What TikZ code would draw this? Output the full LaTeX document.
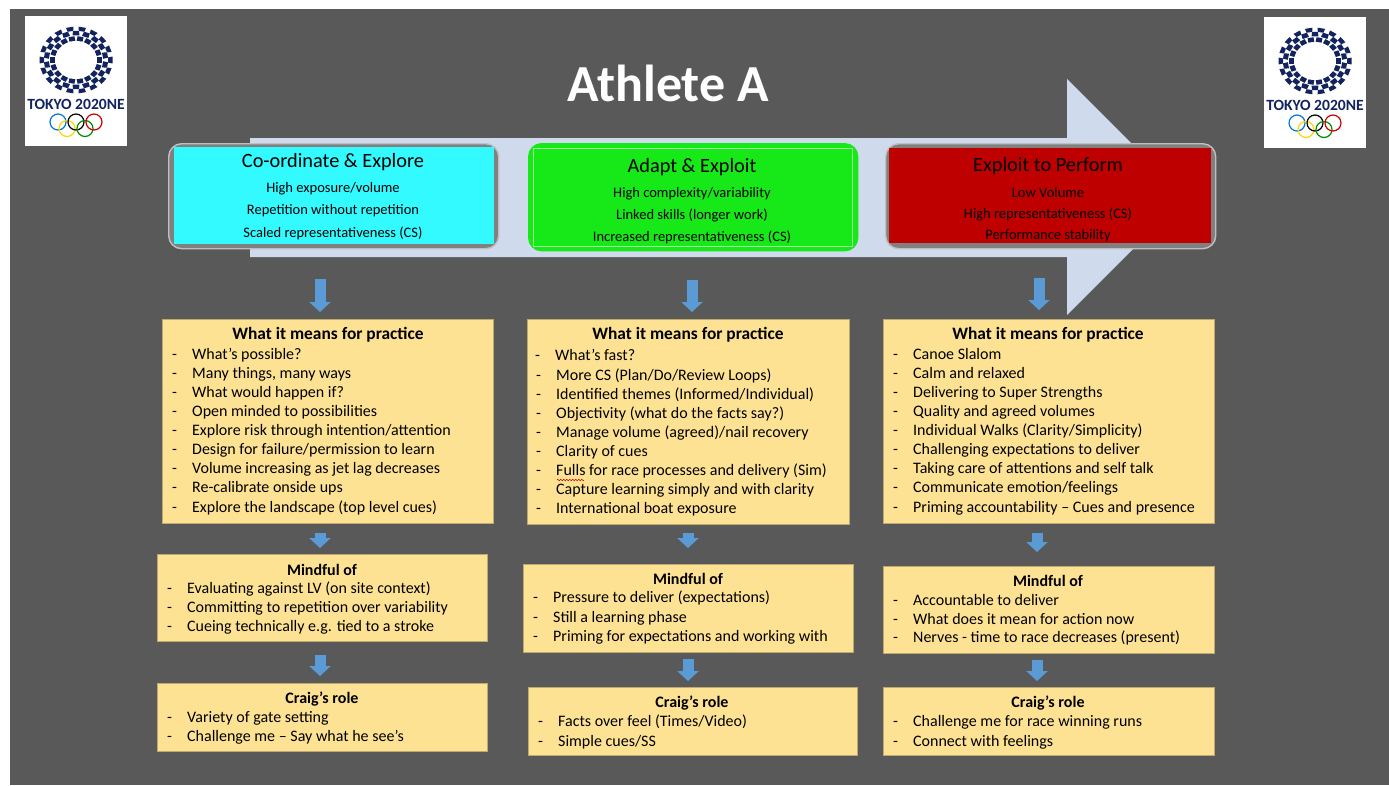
\documentclass[tikz,border=0pt]{standalone}
\usepackage{fontspec}
\setmainfont{Carlito}
\usetikzlibrary{arrows.meta,decorations.pathmorphing}

\definecolor{slidegray}{HTML}{595959}
\definecolor{bigarrow}{HTML}{CFDAED}
\definecolor{notefill}{HTML}{FEE294}
\definecolor{flowblue}{HTML}{5B9BD5}
\definecolor{logonavy}{HTML}{12235F}
\definecolor{stagecyan}{HTML}{33FAFF}
\definecolor{stagegreen}{HTML}{17E817}
\definecolor{stagered}{HTML}{BF0000}

\tikzset{
    notebox/.style={draw=black!25!notefill, fill=notefill, line width=0.6pt, anchor=north west, inner sep=0pt},
    stageouter/.style={draw=black!25, fill=black!50, line width=1.4pt, rounded corners=13pt, anchor=north west, inner sep=0pt},
    stageinner/.style={anchor=north west, inner sep=0pt},
    stagetitle/.style={font=\fontsize{20.3}{23}\selectfont, text=black, yshift=-1pt},
    stageline/.style={font=\fontsize{14.5}{17}\selectfont, text=black, yshift=-1pt},
    notehead/.style={font=\fontsize{17.4}{19}\selectfont\bfseries, text=black},
    smallhead/.style={font=\fontsize{16}{18}\selectfont\bfseries, text=black},
    noteline/.style={font=\fontsize{16}{18}\selectfont, text=black, anchor=west, inner sep=0pt},
    flowarrow/.style={draw=flowblue, line width=11pt, -{Triangle[width=21pt,length=10pt]}},
}

\newcommand{\dashitem}{\makebox[20pt][l]{-}}

% logo, #1 is a name and #2 the white card height
\newcommand{\gameslogo}[2]{%
    \node[fill=white, anchor=north west, inner sep=0pt, minimum width=102pt, minimum height=#2pt] (card#1) at (0,0) {};
    \foreach \a in {0,20,...,340} {
        \fill[logonavy, shift={(51,44)}, yscale=0.91, rotate=\a] (32,-2.8) -- (36.5,-3.8) -- (36.5,3.8) -- (32,2.8) -- cycle;
        \fill[logonavy, shift={(51,44)}, yscale=0.91, rotate=\a+10] (27,-3.4) -- (32,-3) -- (32,3) -- (27,3.4) -- cycle;
        \fill[logonavy, shift={(51,44)}, yscale=0.91, rotate=\a] (21,-3) -- (26,-3) -- (26,3) -- (21,3) -- cycle;
    }
    \node[font=\fontsize{15.6}{17}\selectfont\bfseries, text=logonavy, inner sep=0pt] (word#1) at (51,88.5) {TOKYO 2020NE};
    \draw[color=blue!45!cyan!85!black, line width=1.2pt] (33,106) circle (8);
    \draw[color=yellow!75!orange, line width=1.2pt] (42,112.5) circle (8);
    \draw[color=black, line width=1.2pt] (51,106) circle (8);
    \draw[color=green!55!black, line width=1.2pt] (60,112.5) circle (8);
    \draw[color=red!80!black, line width=1.2pt] (69,106) circle (8);
}

\begin{document}
\begin{tikzpicture}[x=1pt, y=-1pt]
    \useasboundingbox (0,0) rectangle (1389,785);
    \fill[white] (0,0) rectangle (1389,785);
    \fill[slidegray] (10,9) rectangle (1389,785);

    % logos
    \begin{scope}[shift={(25,16)}]
        \gameslogo{left}{130}
    \end{scope}
    \begin{scope}[shift={(1264,17)}]
        \gameslogo{right}{131}
    \end{scope}

    % title
    \node[font=\fontsize{52}{58}\selectfont\bfseries, text=white] (title) at (668,83) {Athlete A};

    % big arrow behind the stages
    \fill[bigarrow] (250,138) -- (1067,138) -- (1067,79) -- (1185,197) -- (1067,315) -- (1067,257) -- (250,257) -- cycle;

    % stages
    \node[stageouter, minimum width=330pt, minimum height=105pt] (outerA) at (168,143) {};
    \node[stageinner, fill=stagecyan, minimum width=320pt, minimum height=97pt] (stageA) at (174,147) {};
    \node[stageouter, draw=stagegreen, fill=stagegreen, minimum width=329pt, minimum height=107pt] (outerB) at (528,143) {};
    \node[stageinner, draw=white!60!stagegreen, line width=0.5pt, fill=stagegreen, minimum width=319pt, minimum height=98pt] (stageB) at (533,148) {};
    \node[stageouter, minimum width=330pt, minimum height=105pt] (outerC) at (885,143) {};
    \node[stageinner, fill=stagered, minimum width=322pt, minimum height=95pt] (stageC) at (889,148) {};

    % stage texts
    \node[stagetitle] (stageAt) at (333,161) {Co-ordinate \& Explore};
    \node[stageline] (stageA1) at (333,188) {High exposure/volume};
    \node[stageline] (stageA2) at (333,210) {Repetition without repetition};
    \node[stageline] (stageA3) at (333,232) {Scaled representativeness (CS)};
    \node[stagetitle] (stageBt) at (692,166) {Adapt \& Exploit};
    \node[stageline] (stageB1) at (692,193) {High complexity/variability};
    \node[stageline] (stageB2) at (692,214) {Linked skills (longer work)};
    \node[stageline] (stageB3) at (692,236) {Increased representativeness (CS)};
    \node[stagetitle] (stageCt) at (1048,165) {Exploit to Perform};
    \node[stageline] (stageC1) at (1048,192) {Low Volume};
    \node[stageline] (stageC2) at (1048,213) {High representativeness (CS)};
    \node[stageline] (stageC3) at (1048,235) {Performance stability};

    % yellow boxes
    \node[notebox, minimum width=331pt, minimum height=204pt] (pracA) at (162,319) {};
    \node[notebox, minimum width=322pt, minimum height=205pt] (pracB) at (527,319) {};
    \node[notebox, minimum width=331pt, minimum height=204pt] (pracC) at (883,319) {};
    \node[notebox, minimum width=330pt, minimum height=87pt] (mindA) at (157,554) {};
    \node[notebox, minimum width=330pt, minimum height=88pt] (mindB) at (523,564) {};
    \node[notebox, minimum width=331pt, minimum height=87pt] (mindC) at (883,566) {};
    \node[notebox, minimum width=330pt, minimum height=68pt] (roleA) at (157,683) {};
    \node[notebox, minimum width=329pt, minimum height=68pt] (roleB) at (528,687) {};
    \node[notebox, minimum width=331pt, minimum height=68pt] (roleC) at (883,687) {};

    % blue arrows
    \draw[flowarrow, shorten <=35pt, shorten >=7pt] (stageA.south -| 320,0) -- (pracA.north -| 320,0);
    \draw[flowarrow, shorten <=33pt, shorten >=7pt] (stageB.south -| 692,0) -- (pracB.north -| 692,0);
    \draw[flowarrow, shorten <=35pt, shorten >=9pt] (stageC.south -| 1039,0) -- (pracC.north -| 1039,0);
    \draw[flowarrow, shorten <=9pt, shorten >=6pt] (pracA.south -| 320,0) -- (mindA.north -| 320,0);
    \draw[flowarrow, shorten <=8pt, shorten >=16pt] (pracB.south -| 688,0) -- (mindB.north -| 688,0);
    \draw[flowarrow, shorten <=9pt, shorten >=14pt] (pracC.south -| 1037,0) -- (mindC.north -| 1037,0);
    \draw[flowarrow, shorten <=13pt, shorten >=7pt] (mindA.south -| 320,0) -- (roleA.north -| 320,0);
    \draw[flowarrow, shorten <=6pt, shorten >=6pt] (mindB.south -| 688,0) -- (roleB.north -| 688,0);
    \draw[flowarrow, shorten <=6pt, shorten >=6pt] (mindC.south -| 1037,0) -- (roleC.north -| 1037,0);

    % first column
    \node[notehead] (pracAh) at (328,335) {What it means for practice};
    \node[noteline] (pracA1) at (172,355) {\dashitem What’s possible?};
    \node[noteline] (pracA2) at (172,374) {\dashitem Many things, many ways};
    \node[noteline] (pracA3) at (172,393) {\dashitem What would happen if?};
    \node[noteline] (pracA4) at (172,412) {\dashitem Open minded to possibilities};
    \node[noteline] (pracA5) at (172,431) {\dashitem Explore risk through intention/attention};
    \node[noteline] (pracA6) at (172,450) {\dashitem Design for failure/permission to learn};
    \node[noteline] (pracA7) at (172,469) {\dashitem Volume increasing as jet lag decreases};
    \node[noteline] (pracA8) at (172,488) {\dashitem Re-calibrate onside ups};
    \node[noteline] (pracA9) at (172,508) {\dashitem Explore the landscape (top level cues)};
    \node[smallhead] (mindAh) at (322,570) {Mindful of};
    \node[noteline] (mindA1) at (167,589) {\dashitem Evaluating against LV (on site context)};
    \node[noteline] (mindA2) at (167,608) {\dashitem Committing to repetition over variability};
    \node[noteline] (mindA3) at (167,627) {\dashitem Cueing technically e.g. tied to a stroke};
    \node[smallhead] (roleAh) at (322,699) {Craig’s role};
    \node[noteline] (roleA1) at (167,718) {\dashitem Variety of gate setting};
    \node[noteline] (roleA2) at (167,737) {\dashitem Challenge me – Say what he see’s};

    % second column
    \node[notehead] (pracBh) at (688,335) {What it means for practice};
    \node[noteline] (pracB1) at (535,355) {\dashitem What’s fast?};
    \node[noteline] (pracB2) at (536,376) {\dashitem More CS (Plan/Do/Review Loops)};
    \node[noteline] (pracB3) at (536,395) {\dashitem Identified themes (Informed/Individual)};
    \node[noteline] (pracB4) at (536,414) {\dashitem Objectivity (what do the facts say?)};
    \node[noteline] (pracB5) at (536,433) {\dashitem Manage volume (agreed)/nail recovery};
    \node[noteline] (pracB6) at (536,452) {\dashitem Clarity of cues};
    \node[noteline] (pracB7) at (536,471) {\dashitem Fulls for race processes and delivery (Sim)};
    \node[noteline] (pracB8) at (536,490) {\dashitem Capture learning simply and with clarity};
    \node[noteline] (pracB9) at (536,509) {\dashitem International boat exposure};
    \draw[red!80!black, line width=0.5pt, decorate, decoration={zigzag, amplitude=0.8pt, segment length=3pt}] (557,480) -- (584,480);
    \node[smallhead] (mindBh) at (688,579) {Mindful of};
    \node[noteline] (mindB1) at (533,598) {\dashitem Pressure to deliver (expectations)};
    \node[noteline] (mindB2) at (533,618) {\dashitem Still a learning phase};
    \node[noteline] (mindB3) at (533,637) {\dashitem Priming for expectations and working with};
    \node[smallhead] (roleBh) at (692,703) {Craig’s role};
    \node[noteline] (roleB1) at (538,722) {\dashitem Facts over feel (Times/Video)};
    \node[noteline] (roleB2) at (538,742) {\dashitem Simple cues/SS};

    % third column
    \node[notehead] (pracCh) at (1048,335) {What it means for practice};
    \node[noteline] (pracC1) at (893,354) {\dashitem Canoe Slalom};
    \node[noteline] (pracC2) at (893,373) {\dashitem Calm and relaxed};
    \node[noteline] (pracC3) at (893,393) {\dashitem Delivering to Super Strengths};
    \node[noteline] (pracC4) at (893,412) {\dashitem Quality and agreed volumes};
    \node[noteline] (pracC5) at (893,431) {\dashitem Individual Walks (Clarity/Simplicity)};
    \node[noteline] (pracC6) at (893,450) {\dashitem Challenging expectations to deliver};
    \node[noteline] (pracC7) at (893,469) {\dashitem Taking care of attentions and self talk};
    \node[noteline] (pracC8) at (893,488) {\dashitem Communicate emotion/feelings};
    \node[noteline] (pracC9) at (893,508) {\dashitem Priming accountability – Cues and presence};
    \node[smallhead] (mindCh) at (1048,581) {Mindful of};
    \node[noteline] (mindC1) at (893,600) {\dashitem Accountable to deliver};
    \node[noteline] (mindC2) at (893,619) {\dashitem What does it mean for action now};
    \node[noteline] (mindC3) at (893,638) {\dashitem Nerves - time to race decreases (present)};
    \node[smallhead] (roleCh) at (1048,703) {Craig’s role};
    \node[noteline] (roleC1) at (893,722) {\dashitem Challenge me for race winning runs};
    \node[noteline] (roleC2) at (893,742) {\dashitem Connect with feelings};
\end{tikzpicture}
\end{document}
